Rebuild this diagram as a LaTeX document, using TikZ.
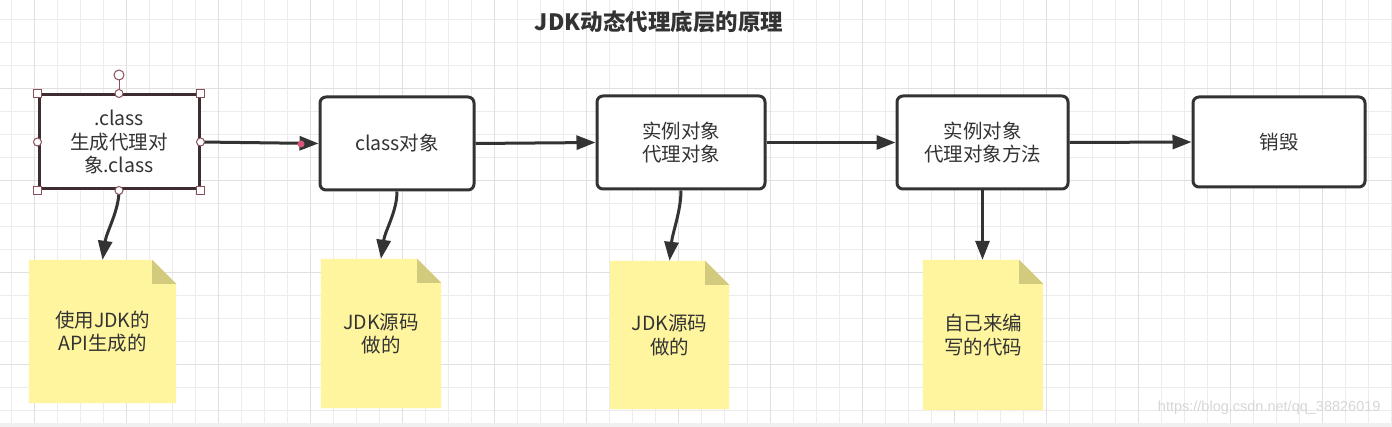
\documentclass[tikz,border=0pt]{standalone}
\usepackage{fontspec}
\setmainfont{Noto Sans CJK SC}
\newfontfamily\wmfont{Liberation Sans}
\usetikzlibrary{arrows.meta}
\definecolor{gridminor}{HTML}{ECECEC}
\definecolor{gridmajor}{HTML}{E0E0E0}
\definecolor{boxline}{HTML}{333333}
\definecolor{txt}{HTML}{333333}
\definecolor{notefill}{HTML}{FFF59F}
\definecolor{notefold}{HTML}{D2CA7C}
\definecolor{selline}{HTML}{3E2C30}
\definecolor{handle}{HTML}{8A4F58}
\definecolor{pinkdot}{HTML}{D9577A}
\definecolor{wmcol}{HTML}{D6D6D6}
\pgfdeclarelayer{gridlayer}
\pgfdeclarelayer{bglayer}
\pgfsetlayers{gridlayer,bglayer,main}
\begin{document}
\begin{tikzpicture}[x=1pt,y=-1pt,
  proc/.style={draw=boxline, line width=3pt, rounded corners=6pt, fill=white,
    text=txt, font=\fontsize{19.5}{23.5}\selectfont, align=center, inner sep=0pt},
  selproc/.style={draw=selline, line width=3pt, fill=white,
    text=txt, font=\fontsize{19.5}{23.5}\selectfont, align=center, inner sep=0pt},
  notebox/.style={text=txt, font=\fontsize{19.5}{23.5}\selectfont, align=center, inner sep=0pt},
  conn/.style={draw=boxline, line width=3pt, -{Triangle[length=19pt,width=14pt]}},
  handlesq/.style={draw=handle, line width=1pt, fill=white, minimum size=8pt, inner sep=0pt, rectangle},
  handleci/.style={draw=handle, line width=1pt, fill=white, minimum size=8pt, inner sep=0pt, circle},
]
\useasboundingbox (0,0) rectangle (1392,427);
\begin{pgfonlayer}{gridlayer}
  \fill[white] (0,0) rectangle (1392,427);
  \foreach \i in {0,...,60} {\draw[gridminor, line width=1pt] ({11.7+23*\i},0) -- ({11.7+23*\i},423);}
  \foreach \j in {0,...,17} {\draw[gridminor, line width=1pt] (0,{19.3+23*\j}) -- (1392,{19.3+23*\j});}
  \foreach \i in {0,...,14} {\draw[gridmajor, line width=1pt] ({34.7+92*\i},0) -- ({34.7+92*\i},423);}
  \foreach \j in {0,...,3} {\draw[gridmajor, line width=1pt] (0,{88.3+92*\j}) -- (1392,{88.3+92*\j});}
  \fill[gray!12] (0,423) rectangle (1392,427);
\end{pgfonlayer}

% title
\node[font=\fontsize{22.5}{22.5}\selectfont\bfseries, text=txt] (title) at (659,22) {JDK动态代理底层的原理};

% process boxes
\node[selproc, minimum width=160pt, minimum height=94pt] (b1) at (119,142) {.class\\生成代理对\\象.class};
\node[proc, minimum width=154pt, minimum height=93pt] (b2) at (397,143.5) {class对象};
\node[proc, minimum width=168pt, minimum height=93pt] (b3) at (681,142.5) {实例对象\\代理对象};
\node[proc, minimum width=171pt, minimum height=93pt] (b4) at (982.5,142.5) {实例对象\\代理对象方法};
\node[proc, minimum width=172pt, minimum height=90pt] (b5) at (1279,142) {销毁};

% notes
\node[notebox, minimum width=147pt, minimum height=143pt] (n1) at (102.5,331.5) {使用JDK的\\API生成的};
\node[notebox, minimum width=120pt, minimum height=149pt] (n2) at (381,333.5) {JDK源码\\做的};
\node[notebox, minimum width=119pt, minimum height=148pt] (n3) at (669.5,335) {JDK源码\\做的};
\node[notebox, minimum width=120pt, minimum height=150pt] (n4) at (983,335) {自己来编\\写的代码};
\begin{pgfonlayer}{bglayer}
  \foreach \n in {n1,n2,n3,n4} {
    \fill[notefill] (\n.north west) -- ([xshift=-24pt]\n.north east) -- ([yshift=-24pt]\n.north east)
      -- (\n.south east) -- (\n.south west) -- cycle;
    \fill[notefold] ([xshift=-24pt]\n.north east) -- ([yshift=-24pt]\n.north east)
      -- ([xshift=-24pt,yshift=-24pt]\n.north east) -- cycle;
  }
\end{pgfonlayer}

% horizontal connectors
\draw[conn] (b1.east) -- (b2.west);
\draw[conn] (b2.east) -- (b3.west);
\draw[conn] (b3.east) -- (b4.west);
\draw[conn] (b4.east) -- (b5.west);
\fill[pinkdot] (301,144) circle (3.5pt);

% connectors to notes
\draw[conn] (b1.south) .. controls +(0,20) and +(4,-28) .. (n1.north);
\draw[conn] (b2.south) .. controls +(0,20) and +(4,-28) .. (n2.north);
\draw[conn] (b3.south) .. controls +(0,20) and +(3,-28) .. (n3.north);
\draw[conn] (b4.south) -- (b4.south |- n4.north);

% selection handles on b1
\draw[handle, line width=1pt] (b1.north) -- (119,80);
\node[handleci, minimum size=10pt] (rot) at (119,75) {};
\node[handlesq] (hnw) at (b1.north west) {};
\node[handlesq] (hne) at (b1.north east) {};
\node[handlesq] (hsw) at (b1.south west) {};
\node[handlesq] (hse) at (b1.south east) {};
\node[handleci] (hn) at (b1.north) {};
\node[handleci] (hs) at (b1.south) {};
\node[handleci] (hw) at (b1.west) {};
\node[handleci] (he) at (b1.east) {};

% watermark
\node[font=\wmfont\fontsize{14.5}{14.5}\selectfont, text=wmcol, anchor=east] (wm) at (1384,408) {https://blog.csdn.net/qq\_38826019};
\end{tikzpicture}
\end{document}
